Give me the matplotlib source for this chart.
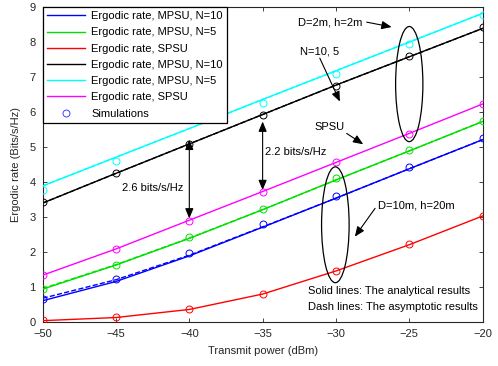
#!/usr/bin/env python3
"""Ergodic rate versus transmit power (MPSU / SPSU)."""

import matplotlib

matplotlib.use("Agg")
import matplotlib.pyplot as plt
from matplotlib.patches import Ellipse

power = [-50, -45, -40, -35, -30, -25, -20]

# D=10m, h=20m, analytical
mpsu10_far = [0.60, 1.15, 1.88, 2.70, 3.53, 4.37, 5.20]
mpsu5_far = [0.93, 1.62, 2.38, 3.20, 4.05, 4.88, 5.72]
spsu_far = [0.03, 0.12, 0.35, 0.79, 1.45, 2.20, 3.02]
# D=2m, h=2m, analytical
mpsu10_near = [3.39, 4.24, 5.08, 5.92, 6.76, 7.57, 8.38]
mpsu5_near = [3.88, 4.70, 5.52, 6.35, 7.17, 7.99, 8.81]
spsu_near = [1.33, 2.08, 2.90, 3.72, 4.55, 5.38, 6.22]

# asymptotic results (dashed)
mpsu10_far_asym = [0.67, 1.20, 1.90, 2.71, 3.53, 4.37, 5.20]
mpsu5_far_asym = [0.95, 1.63, 2.39, 3.20, 4.05, 4.88, 5.72]
mpsu10_near_asym = [3.39, 4.24, 5.08, 5.92, 6.76, 7.57, 8.38]
mpsu5_near_asym = [3.88, 4.70, 5.52, 6.35, 7.17, 7.99, 8.81]

# simulations
sim_mpsu10_far = [0.64, 1.23, 1.97, 2.78, 3.60, 4.43, 5.24]
sim_mpsu5_far = [0.93, 1.62, 2.41, 3.22, 4.10, 4.91, 5.73]
sim_spsu_far = [0.05, 0.14, 0.37, 0.79, 1.46, 2.21, 3.03]
sim_mpsu10_near = [3.41, 4.26, 5.08, 5.91, 6.73, 7.59, 8.41]
sim_mpsu5_near = [3.76, 4.59, 5.90, 6.24, 7.08, 7.93, 8.76]
sim_spsu_near = [1.33, 2.08, 2.89, 3.70, 4.55, 5.35, 6.21]

labels = [
    "Ergodic rate, MPSU, N=10",
    "Ergodic rate, MPSU, N=5",
    "Ergodic rate, SPSU",
    "Ergodic rate, MPSU, N=10",
    "Ergodic rate, MPSU, N=5",
    "Ergodic rate, SPSU",
]

plt.rcParams["font.family"] = ["Liberation Sans", "DejaVu Sans"]
FS = 8
plt.rcParams["font.size"] = FS

fig = plt.figure(figsize=(4.98, 3.66), dpi=100)
ax = fig.add_axes([0.0857, 0.121, 0.8833, 0.8606])

analytic = [mpsu10_far, mpsu5_far, spsu_far, mpsu10_near, mpsu5_near, spsu_near]
sims = [sim_mpsu10_far, sim_mpsu5_far, sim_spsu_far,
        sim_mpsu10_near, sim_mpsu5_near, sim_spsu_near]
colors = ["#0000ff", "#00e000", "#ff0000", "#000000", "#00ffff", "#ff00ff"]

asym = [(mpsu10_far_asym, colors[0]), (mpsu5_far_asym, colors[1]),
        (mpsu10_near_asym, colors[3]), (mpsu5_near_asym, colors[4])]
for vals, c in asym:
    ax.plot(power, vals, "--", color=c, lw=1.0, zorder=2)

handles = []
for vals, c, lab in zip(analytic, colors, labels):
    (h,) = ax.plot(power, vals, "-", color=c, lw=1.0, label=lab, zorder=3)
    handles.append(h)

for vals, c in zip(sims, colors):
    ax.plot(power, vals, "o", ms=5, mfc="none", mec=c, mew=0.7, zorder=4)
(hs,) = ax.plot([], [], "o", ms=5, mfc="none", mec="#4040ff", mew=0.7,
                label="Simulations")
handles.append(hs)

ax.set_xlim(-50, -20)
ax.set_ylim(0, 9)
ax.set_xticks(range(-50, -19, 5))
ax.set_yticks(range(0, 10))
ax.tick_params(direction="in", top=True, right=True, length=3, width=0.6,
               colors="#262626", labelsize=FS, pad=5)
for sp in ax.spines.values():
    sp.set_linewidth(0.8)
    sp.set_color("#262626")
ax.set_xlabel("Transmit power (dBm)", fontsize=FS, color="#262626", labelpad=5)
ax.set_ylabel("Ergodic rate (Bits/s/Hz)", fontsize=FS, color="#262626",
              labelpad=6)

leg = ax.legend(handles=handles, loc="upper left", fontsize=FS,
                borderaxespad=0.0, fancybox=False, framealpha=1,
                edgecolor="black", handlelength=3.4, labelspacing=0.56,
                handletextpad=0.55, borderpad=0.4)
leg.get_frame().set_linewidth(0.9)
leg.set_zorder(10)

# ellipses
ax.add_patch(Ellipse((-25, 6.79), 1.86, 3.29, fill=False, ec="black",
                     lw=0.9, zorder=5))
ax.add_patch(Ellipse((-30.04, 2.77), 1.88, 3.31, fill=False, ec="black",
                     lw=0.9, zorder=5))

arrow = dict(arrowstyle="-|>,head_length=0.6,head_width=0.25", color="black",
             lw=0.8, mutation_scale=10, shrinkA=0, shrinkB=0)
ax.annotate("", xy=(-26.2, 8.42), xytext=(-27.9, 8.56), arrowprops=arrow)
ax.text(-32.59, 8.56, "D=2m, h=2m", va="center", ha="left", fontsize=FS)

ax.annotate("", xy=(-29.73, 6.29), xytext=(-31.1, 7.53), arrowprops=arrow)
ax.text(-32.46, 7.71, "N=10, 5", va="center", ha="left", fontsize=FS)

ax.annotate("", xy=(-28.14, 5.07), xytext=(-29.27, 5.38), arrowprops=arrow)
ax.text(-31.43, 5.57, "SPSU", va="center", ha="left", fontsize=FS)

ax.annotate("", xy=(-28.71, 2.43), xytext=(-27.33, 3.24), arrowprops=arrow)
ax.text(-27.14, 3.33, "D=10m, h=20m", va="center", ha="left", fontsize=FS)

darrow = dict(arrowstyle="<|-|>,head_length=0.6,head_width=0.25",
              color="black", lw=0.8, mutation_scale=10, shrinkA=0, shrinkB=0)
ax.annotate("", xy=(-35, 5.72), xytext=(-35, 3.76), arrowprops=darrow)
ax.text(-34.84, 4.86, "2.2 bits/s/Hz", va="center", ha="left", fontsize=FS)

ax.annotate("", xy=(-40, 5.2), xytext=(-40, 2.95), arrowprops=darrow)
ax.text(-44.61, 3.81, "2.6 bits/s/Hz", va="center", ha="left", fontsize=FS)

ax.text(-31.89, 0.886, "Solid lines: The analytical results", va="center",
        ha="left", fontsize=FS)
ax.text(-31.89, 0.43, "Dash lines: The asymptotic results", va="center",
        ha="left", fontsize=FS)

fig.savefig("out.png", dpi=100)
plt.close(fig)
